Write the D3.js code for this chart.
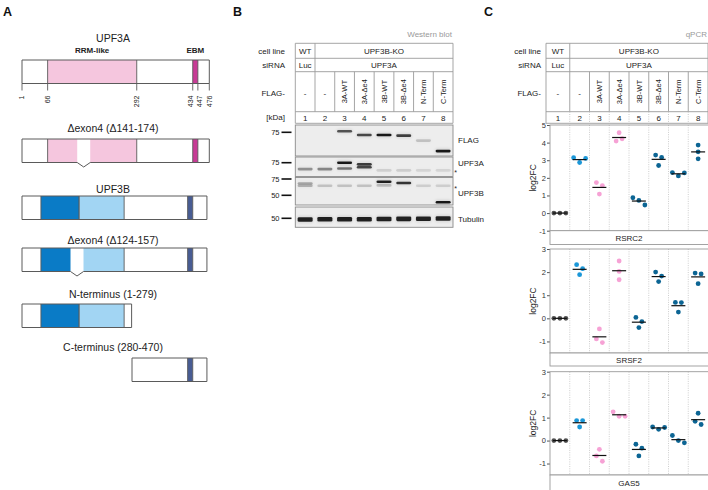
<!DOCTYPE html>
<html><head><meta charset="utf-8">
<script src="https://cdn.jsdelivr.net/npm/d3@7"></script>
<style>body{margin:0;background:#fff} svg{font-family:"Liberation Sans",Arial,Helvetica,sans-serif;display:block}</style>
</head><body><svg id="c" width="708" height="490"></svg>
<script>
// ================= DATA =================
const lanes = [1,2,3,4,5,6,7,8];
const cellLineLabels = ["WT","UPF3B-KO"];
const sirnaLabels = ["Luc","UPF3A"];
const flagLabels = ["-","-","3A-WT","3A-Δe4","3B-WT","3B-Δe4","N-Term","C-Term"];

// Panel A: protein constructs
const constructNames = ["UPF3A","Δexon4 (Δ141-174)","UPF3B","Δexon4 (Δ124-157)","N-terminus (1-279)","C-terminus (280-470)"];
const constructStart = [1,1,1,1,1,280];
const constructEnd = [476,476,470,470,279,470];
const constructDeletion = [null,[141,174],null,[124,157],null,null];
const constructFamily = ["A","A","B","B","B","B"];
const upf3aDomains = [[66,292,"rrm"],[434,447,"ebmA"]];
const upf3bDomains = [[49,146,"b1"],[146,260,"b2"],[421,434,"ebmB"]];
const upf3aDomainLabels = [["RRM-like",179],["EBM",440.5]];
const upf3aTicks = [1,66,292,434,447,476];

// Panel B: western blot (lane, apparent kDa, intensity)
const blotPanels = ["FLAG","UPF3A","UPF3B","Tubulin"];
const blotMarkers = [[75],[75],[75,50],[50]];
const flagBands = [[3,77,0.7],[4,70,0.75],[5,70,1],[6,69,0.8],[7,61,0.18],[8,47,1]];
const upf3aBands = [[1,64,0.4],[2,64,0.45],[3,75,1],[3,65,0.55],[4,72,0.8],[4,67,0.75],[5,62,0.12],[6,62,0.13],[7,62,0.1],[8,62,0.1]];
const upf3bBands = [[1,67,0.3],[1,63.5,0.25],[2,63.5,0.18],[3,63.5,0.18],[4,63.5,0.18],[5,70,0.95],[5,64,0.2],[6,68,0.85],[7,63.5,0.13],[8,63.5,0.13],[8,42,1]];
const tubulinBands = [[1,48.6,0.95],[2,48.8,0.95],[3,48.8,0.95],[4,48.9,0.95],[5,49.2,0.95],[6,49.3,0.95],[7,49.5,0.95],[8,49.8,0.95]];

// Panel C: qPCR log2FC (3 replicates per lane)
const genes = ["RSRC2","SRSF2","GAS5"];
const rsrc2 = [[0,0,0],[3.14,2.87,3.10],[1.73,1.56,1.08],[4.56,4.09,4.22],[0.87,0.72,0.46],[3.29,3.16,2.70],[2.30,2.11,2.28],[3.86,3.48,3.08]];
const srsf2 = [[0,0,0],[2.32,2.15,1.89],[-0.46,-0.89,-1.05],[2.48,2.03,1.67],[0.04,-0.14,-0.40],[2.00,1.83,1.59],[0.69,0.68,0.27],[1.96,1.92,1.50]];
const gas5 = [[0,0,0],[0.87,0.87,0.59],[-0.38,-0.67,-0.90],[1.25,1.06,1.06],[-0.16,-0.33,-0.67],[0.59,0.49,0.57],[0.22,0.00,-0.10],[1.19,0.84,0.70]];
const yDomains = [[-1,5],[-1.5,3],[-1.5,3]];
const yTicks = [[-1,0,1,2,3,4,5],[-1,0,1,2,3],[-1,0,1,2,3]];
const laneColors = ["#505050","#1b97d8","#f6a2d5","#f6a2d5","#0c6594","#0c6594","#0c6594","#0c6594"];

// ================= DRAWING =================
const svg = d3.select("#c");
const TXT = "#222";
const LINE = "#9b9b9b";

// panel letters
[["A",3],["B",233],["C",484]].forEach(([t,x]) =>
  svg.append("text").attr("x",x).attr("y",16).attr("font-size",12.5).attr("font-weight","bold").attr("fill","#111").text(t));

// ---------- Panel A ----------
const xA = d3.scaleLinear().domain([1,476]).range([22,209.3]);
const domainColor = {rrm:"#f5c6de", ebmA:"#c73a95", b1:"#0a7bc6", b2:"#a2d5f3", ebmB:"#485c93"};
const titleY = [38,128,189,240,294,347];
const boxY = [60,139,196,248,304,358];
const boxH = 23.5;

constructNames.forEach((name,i) => {
  const g = svg.append("g");
  const s = constructStart[i], e = constructEnd[i], del = constructDeletion[i];
  const doms = constructFamily[i] === "A" ? upf3aDomains : upf3bDomains;
  const y0 = boxY[i], y1 = y0 + boxH;
  g.append("text").attr("x",113).attr("y",titleY[i]).attr("text-anchor","middle")
    .attr("dominant-baseline","central").attr("font-size",10.5).attr("fill",TXT).text(name);
  g.append("rect").attr("x",xA(s)).attr("y",y0).attr("width",xA(e)-xA(s)).attr("height",boxH).attr("fill","#fff");
  doms.forEach(([a,b,k]) => {
    let segs = [[Math.max(a,s),Math.min(b,e)]];
    if (del) segs = segs.flatMap(([p,q]) => {
      const out = [];
      if (p < del[0]) out.push([p,Math.min(q,del[0])]);
      if (q > del[1]) out.push([Math.max(p,del[1]),q]);
      return out;
    });
    segs.filter(([p,q]) => q > p).forEach(([p,q]) =>
      g.append("rect").attr("x",xA(p)).attr("y",y0).attr("width",xA(q)-xA(p)).attr("height",boxH).attr("fill",domainColor[k]));
    [a,b].forEach(v => {
      if (v > s && v < e && !(del && v >= del[0] && v <= del[1]))
        g.append("line").attr("x1",xA(v)).attr("x2",xA(v)).attr("y1",y0).attr("y2",y1).attr("stroke","#5a5a5a").attr("stroke-width",0.9);
    });
  });
  let p = `M${xA(s)},${y0}H${xA(e)}V${y1}`;
  if (del) {
    const m = (xA(del[0])+xA(del[1]))/2;
    p += `H${xA(del[1])}L${m},${y1+4.5}L${xA(del[0])},${y1}`;
  }
  p += `H${xA(s)}Z`;
  g.append("path").attr("d",p).attr("fill","none").attr("stroke","#5a5a5a").attr("stroke-width",1);

  if (i === 0) {
    upf3aDomainLabels.forEach(([t,v]) =>
      g.append("text").attr("x",xA(v)).attr("y",y0-7).attr("text-anchor","middle").attr("font-size",8)
        .attr("font-weight","bold").attr("fill",TXT).text(t));
    // ticks with label de-overlap
    const pos = upf3aTicks.map(v => xA(v));
    const lab = pos.slice();
    for (let it=0; it<60; it++) {
      for (let j=1;j<lab.length;j++) {
        const d = lab[j]-lab[j-1];
        if (d < 9.5) { const sh=(9.5-d)/2; lab[j]+=sh; lab[j-1]-=sh; }
      }
    }
    upf3aTicks.forEach((v,j) => {
      g.append("line").attr("x1",pos[j]).attr("x2",pos[j]).attr("y1",y1).attr("y2",y1+7).attr("stroke","#5a5a5a").attr("stroke-width",0.9);
      g.append("text").attr("transform",`translate(${lab[j]},${y1+12}) rotate(-90)`)
        .attr("text-anchor","end").attr("dy","0.35em").attr("font-size",7).attr("fill",TXT).text(v);
    });
  }
});

// ---------- tables (B and C) ----------
const rowY = [43.3,58.3,71.7,111.7,123.3];
function drawTable(xs, left, right, labelX, kdaRow, dottedNumbers) {
  const g = svg.append("g");
  const edge = l => l===1 ? left : xs(l);
  const cx = l => (edge(l) + xs(l)+xs.bandwidth())/2;
  // horizontal lines
  rowY.forEach(y => g.append("line").attr("x1",left).attr("x2",right).attr("y1",y).attr("y2",y).attr("stroke",LINE).attr("stroke-width",0.9));
  [left,right].forEach(x => g.append("line").attr("x1",x).attr("x2",x).attr("y1",rowY[0]).attr("y2",rowY[4]).attr("stroke",LINE).attr("stroke-width",0.9));
  // WT | KO divider rows 1-2
  g.append("line").attr("x1",xs(2)).attr("x2",xs(2)).attr("y1",rowY[0]).attr("y2",rowY[2]).attr("stroke",LINE).attr("stroke-width",0.9);
  lanes.slice(1).forEach(l => {
    g.append("line").attr("x1",xs(l)).attr("x2",xs(l)).attr("y1",rowY[2]).attr("y2",rowY[3]).attr("stroke",LINE).attr("stroke-width",0.9);
    if (dottedNumbers) g.append("line").attr("x1",xs(l)).attr("x2",xs(l)).attr("y1",rowY[3]).attr("y2",rowY[4])
      .attr("stroke","#c4c4c4").attr("stroke-dasharray","1,1.3").attr("stroke-width",0.9);
  });
  const t = (x,y,s,anchor="middle",size=8) => g.append("text").attr("x",x).attr("y",y).attr("text-anchor",anchor)
    .attr("dominant-baseline","central").attr("font-size",size).attr("fill",TXT).text(s);
  // row labels
  t(labelX,(rowY[0]+rowY[1])/2+0.5,"cell line","end");
  t(labelX,(rowY[1]+rowY[2])/2+0.5,"siRNA","end");
  t(labelX,(rowY[2]+rowY[3])/2+2,"FLAG-","end");
  if (kdaRow) t(labelX,(rowY[3]+rowY[4])/2,"[kDa]","end");
  // contents
  const spanMid = (xs(2)+right)/2;
  t(cx(1),(rowY[0]+rowY[1])/2+0.5,cellLineLabels[0]);
  t(spanMid,(rowY[0]+rowY[1])/2+0.5,cellLineLabels[1]);
  t(cx(1),(rowY[1]+rowY[2])/2+0.5,sirnaLabels[0]);
  t(spanMid,(rowY[1]+rowY[2])/2+0.5,sirnaLabels[1]);
  lanes.forEach((l,i) => {
    const lbl = flagLabels[i];
    if (lbl === "-") t(cx(l),(rowY[2]+rowY[3])/2+2,lbl);
    else g.append("text").attr("transform",`translate(${cx(l)},${(rowY[2]+rowY[3])/2}) rotate(-90)`)
      .attr("text-anchor","middle").attr("dy","0.35em").attr("font-size",7.5).attr("fill",TXT).text(lbl);
    t(cx(l),(rowY[3]+rowY[4])/2+0.5,l);
  });
}

// ---------- Panel B ----------
const xB = d3.scaleBand().domain(lanes).range([295.3,453]);
svg.append("text").attr("x",452).attr("y",37).attr("text-anchor","end").attr("font-size",8).attr("fill","#999").text("Western blot");
drawTable(xB, 295.3, 453, 285, true, false);

const defs = svg.append("defs");
defs.append("filter").attr("id","blur").attr("x","-30%").attr("y","-100%").attr("width","160%").attr("height","300%")
  .append("feGaussianBlur").attr("stdDeviation","0.75");
defs.append("filter").attr("id","blur2").attr("x","-30%").attr("y","-100%").attr("width","160%").attr("height","300%")
  .append("feGaussianBlur").attr("stdDeviation","1.6");

const blotY = [[125,156],[157,176.5],[177.5,205],[207,227.3]];
const blotAnchor = [[75,132.3],[75,162.7],[75,179],[50,218.3]];
const blotBands = [flagBands, upf3aBands, upf3bBands, tubulinBands];
const blotLabelY = [140,163,193.5,219];
const bandH = [2.6,2.6,2.6,4.6];
blotPanels.forEach((name,i) => {
  const [t,b] = blotY[i];
  const [ak,ay] = blotAnchor[i];
  const y = d3.scaleLog().domain([ak, ak*50/75]).range([ay, ay+16.3]);
  const g = svg.append("g");
  g.append("rect").attr("x",295.3).attr("y",t).attr("width",453-295.3).attr("height",b-t).attr("fill","#ededed");
  const inner = g.append("g");
  blotBands[i].forEach(([l,k,v]) => {
    const cx = xB(l)+xB.bandwidth()/2;
    inner.append("rect").attr("x",cx-8).attr("y",y(k)-bandH[i]/2-1).attr("width",16).attr("height",bandH[i]+2)
      .attr("rx",2).attr("fill","#000").attr("opacity",v*0.12).attr("filter","url(#blur2)");
    inner.append("rect").attr("x",cx-7.5).attr("y",y(k)-bandH[i]/2).attr("width",15).attr("height",bandH[i])
      .attr("rx",1.3).attr("fill","#111").attr("opacity",v*0.95).attr("filter","url(#blur)");
  });
  g.append("rect").attr("x",295.3).attr("y",t).attr("width",453-295.3).attr("height",b-t).attr("fill","none")
    .attr("stroke","#8a8a8a").attr("stroke-width",0.9);
  blotMarkers[i].forEach(k => {
    g.append("line").attr("x1",281.5).attr("x2",291.5).attr("y1",y(k)).attr("y2",y(k)).attr("stroke","#111").attr("stroke-width",1.6);
    g.append("text").attr("x",279.5).attr("y",y(k)).attr("text-anchor","end").attr("dominant-baseline","central")
      .attr("font-size",7.5).attr("fill",TXT).text(k);
  });
  g.append("text").attr("x",458).attr("y",blotLabelY[i]).attr("dominant-baseline","central").attr("font-size",8).attr("fill",TXT).text(name);
});
[[455.5,172.5],[455.5,188]].forEach(([x,y]) =>
  svg.append("text").attr("x",x).attr("y",y).attr("text-anchor","middle").attr("dominant-baseline","central").attr("font-size",7).attr("fill",TXT).text("*"));

// ---------- Panel C ----------
const xC = d3.scaleBand().domain(lanes).range([550,708]);
svg.append("text").attr("x",707).attr("y",37).attr("text-anchor","end").attr("font-size",8).attr("fill","#999").text("qPCR");
drawTable(xC, 546, 708, 541, false, true);

const panelTop = [125,249,371.7];
const panelBot = [230.7,353,475];
const stripBot = [244.5,366,492];
const geneData = [rsrc2, srsf2, gas5];
const R = 2.4, SP = 6;

genes.forEach((gene,i) => {
  const g = svg.append("g");
  const y = d3.scaleLinear().domain(yDomains[i]).range([panelBot[i], panelTop[i]]);
  g.append("rect").attr("x",550).attr("y",panelTop[i]).attr("width",160).attr("height",panelBot[i]-panelTop[i]).attr("fill","#fff");
  lanes.slice(1).forEach(l =>
    g.append("line").attr("x1",xC(l)).attr("x2",xC(l)).attr("y1",panelTop[i]).attr("y2",panelBot[i])
      .attr("stroke","#c8c8c8").attr("stroke-dasharray","1,1.3").attr("stroke-width",0.9));
  const ax = g.append("g").attr("transform","translate(550,0)")
    .call(d3.axisLeft(y).tickValues(yTicks[i]).tickSize(3).tickFormat(d => String(d)));
  ax.select(".domain").remove();
  ax.selectAll(".tick line").attr("stroke","#555");
  ax.selectAll(".tick text").attr("font-size",7.5).attr("fill","#333").attr("font-family",null).attr("x",-4);
  g.append("rect").attr("x",550).attr("y",panelTop[i]).attr("width",160).attr("height",panelBot[i]-panelTop[i])
    .attr("fill","none").attr("stroke","#9a9a9a").attr("stroke-width",0.9);
  g.append("text").attr("transform",`translate(533,${(panelTop[i]+panelBot[i])/2}) rotate(-90)`)
    .attr("text-anchor","middle").attr("dy","0.35em").attr("font-size",8.5).attr("fill",TXT).text("log2FC");
  // strip
  g.append("rect").attr("x",550).attr("y",panelBot[i]).attr("width",160).attr("height",stripBot[i]-panelBot[i])
    .attr("fill","#fff").attr("stroke","#9a9a9a").attr("stroke-width",0.9);
  g.append("text").attr("x",629).attr("y",(panelBot[i]+Math.min(stripBot[i],490))/2+0.5).attr("text-anchor","middle")
    .attr("dominant-baseline","central").attr("font-size",8).attr("fill",TXT).text(gene);
  // dots
  geneData[i].forEach((vals,li) => {
    const l = lanes[li];
    const cx = xC(l) + xC.bandwidth()/2;
    const ys = vals.map(v => y(v));
    // cluster overlapping points
    const parent = vals.map((_,k) => k);
    const find = k => parent[k]===k ? k : (parent[k]=find(parent[k]));
    for (let a=0;a<ys.length;a++) for (let b=a+1;b<ys.length;b++)
      if (Math.abs(ys[a]-ys[b]) < 2*R+0.6) parent[find(a)] = find(b);
    const groups = {};
    ys.forEach((_,k) => (groups[find(k)] = groups[find(k)] || []).push(k));
    const off = new Array(ys.length).fill(0);
    Object.values(groups).forEach(mem => mem.forEach((k,j) => off[k] = (j-(mem.length-1)/2)*SP));
    ys.forEach((yy,k) => g.append("circle").attr("cx",cx+off[k]).attr("cy",yy).attr("r",R).attr("fill",laneColors[li]));
    const m = d3.mean(vals);
    g.append("line").attr("x1",cx-7).attr("x2",cx+7).attr("y1",y(m)).attr("y2",y(m)).attr("stroke","#111").attr("stroke-width",1.2);
  });
});
</script></body></html>
